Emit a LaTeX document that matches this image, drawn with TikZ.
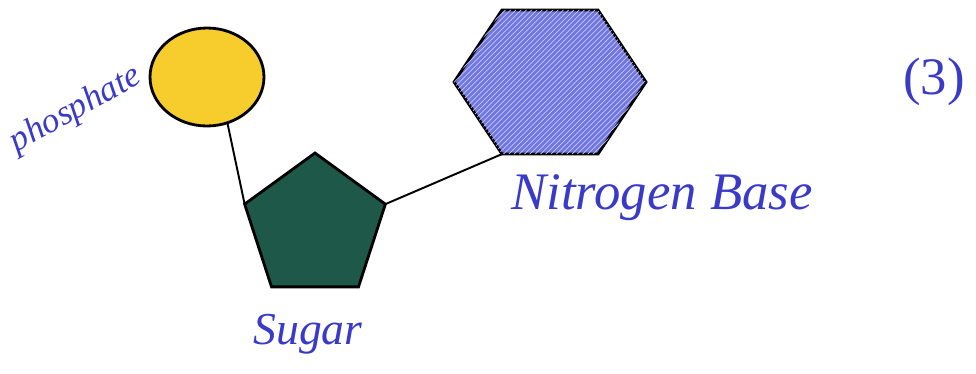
\documentclass[tikz,border=0pt]{standalone}
\usepackage{fontspec}
\setmainfont{Liberation Serif}
\usetikzlibrary{shapes.geometric, patterns, positioning}
\definecolor{ink}{RGB}{58,58,200}
\definecolor{phosfill}{RGB}{247,204,45}
\definecolor{sugarfill}{RGB}{30,88,72}
\definecolor{basefill}{RGB}{112,118,224}
\tikzset{
  part/.style  = {draw=black, line width=1.6pt, inner sep=0pt, outer sep=0pt},
  bond/.style  = {line width=1.1pt, black},
  label/.style = {text=ink, font=\itshape\fontsize{26}{28}\selectfont, inner sep=1pt},
}
\begin{document}
\begin{tikzpicture}[x=0.02cm, y=-0.02cm]
\useasboundingbox (0,0) rectangle (976,373);

\node[part, ellipse, fill=phosfill, minimum width=2.28cm, minimum height=1.96cm]
  (phos) at (207,77) {};
\node[part, regular polygon, regular polygon sides=5, fill=sugarfill,
  minimum size=2.96cm] (sugar) at (315,227) {};
\node[part, regular polygon, regular polygon sides=6, fill=basefill,
  postaction={pattern=north east lines, pattern color=white!60!basefill},
  minimum size=3.84cm, yscale=0.867, transform shape] (base) at (550,82) {};

\draw[bond] (phos.-66) -- (sugar.corner 2);
\draw[bond] (sugar.corner 5) -- (base.corner 4);

\node[label, rotate=29, font=\itshape\fontsize{20}{22}\selectfont]
  (phoslbl) at (76,110) {phosphate};
\node[label] (sugarlbl) at (308,334) {Sugar};
\node[label, font=\itshape\fontsize{30}{32}\selectfont] (baselbl) at (662,198) {Nitrogen Base};
\node[label, font=\fontsize{30}{32}\selectfont] (num) at (934,82) {(3)};

\end{tikzpicture}
\end{document}
